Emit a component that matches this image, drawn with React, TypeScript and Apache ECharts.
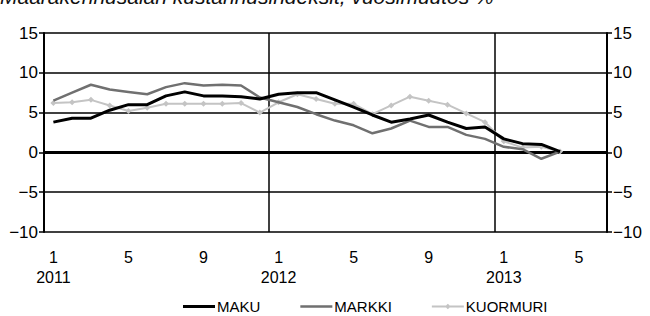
import React, { useEffect, useRef } from "react";
import * as echarts from "echarts";

const titleText = "Maarakennusalan kustannusindeksit, vuosimuutos %";
const years = [2011, 2012, 2013];
const months = [1, 2, 3, 4, 5, 6, 7, 8, 9, 10, 11, 12];
const lastYearMonths = 6;

const makuValues = [3.8, 4.3, 4.3, 5.3, 6.0, 6.0, 7.1, 7.6, 7.1, 7.1, 7.0, 6.7, 7.3, 7.5, 7.5, 6.6, 5.7, 4.7, 3.8, 4.2, 4.7, 3.8, 3.0, 3.2, 1.7, 1.1, 1.0, 0.1];
const markkiValues = [6.5, 7.5, 8.5, 7.9, 7.6, 7.3, 8.2, 8.7, 8.4, 8.5, 8.4, 6.9, 6.3, 5.7, 4.8, 4.0, 3.4, 2.4, 3.0, 4.0, 3.2, 3.2, 2.2, 1.7, 0.7, 0.4, -0.8, 0.1];
const kuormuriValues = [6.2, 6.3, 6.6, 5.9, 5.2, 5.6, 6.1, 6.1, 6.1, 6.1, 6.2, 5.0, 6.3, 7.3, 6.7, 6.1, 6.1, 4.8, 5.9, 7.0, 6.5, 6.0, 4.9, 3.8, 1.4, 0.6, 0.7, 0.1];

const yTicks = [-10, -5, 0, 5, 10, 15];

const corners = "M0,0 L0.01,0 L0,0.01 Z M32,12 L31.99,12 L32,11.99 Z ";
const thickLineIcon = "path://" + corners + "M0,4.4 L32,4.4 L32,7.6 L0,7.6 Z";
const midLineIcon = "path://" + corners + "M0,4.8 L32,4.8 L32,7.2 L0,7.2 Z";
const markerLineIcon = "path://" + corners + "M0,5.1 L32,5.1 L32,6.9 L0,6.9 Z M16,3.2 L18.8,6 L16,8.8 L13.2,6 Z";

export default function App() {
  const ref = useRef<HTMLDivElement>(null);
  useEffect(() => {
    if (!ref.current) return;
    const chart = echarts.init(ref.current, null, { renderer: "svg" });
    const categories: string[] = [];
    years.forEach((y, yi) => {
      const ms = yi === years.length - 1 ? months.slice(0, lastYearMonths) : months;
      ms.forEach((m) => categories.push(m === 1 ? `${m}\n${y}` : `${m}`));
    });
    const font = "'Liberation Sans', Arial, sans-serif";
    const yAxisCommon = {
      type: "value" as const,
      min: yTicks[0],
      max: yTicks[yTicks.length - 1],
      interval: 5,
      axisLine: { show: true, lineStyle: { color: "#000", width: 2 } },
      axisTick: { show: true, inside: false, length: 5, lineStyle: { color: "#000", width: 1.5 } },
      axisLabel: { color: "#000", fontSize: 17, fontFamily: font, margin: 6, formatter: (v: number) => (v < 0 ? "\u2212" + Math.abs(v) : String(v)) },
    };
    chart.setOption({
      animation: false,
      backgroundColor: "#fff",
      textStyle: { fontFamily: font },
      graphic: [
        {
          type: "text",
          left: 0,
          top: -14,
          style: { text: titleText, font: `italic 21px ${font}`, fill: "#111" },
        },
      ],
      legend: {
        left: 178,
        top: 294,
        itemWidth: 32,
        itemHeight: 12,
        itemGap: 40,
        textStyle: { fontSize: 15, color: "#000", fontFamily: font, padding: [0, 0, 0, -3] },
        data: [
          { name: "MAKU", icon: thickLineIcon },
          { name: "MARKKI", icon: midLineIcon },
          { name: "KUORMURI", icon: markerLineIcon },
        ],
      },
      grid: { left: 44, right: 43, top: 33, bottom: 84, containLabel: false },
      xAxis: {
        type: "category",
        data: categories,
        boundaryGap: true,
        axisLine: { show: false },
        axisTick: { show: false },
        axisLabel: {
          interval: (i: number) => i % 4 === 0,
          color: "#000",
          fontSize: 16,
          fontFamily: font,
          margin: 15,
          lineHeight: 20,
        },
        splitLine: {
          show: true,
          interval: (i: number) => i === 12 || i === 24,
          lineStyle: { color: "#000", width: 1.5 },
        },
      },
      yAxis: [
        { ...yAxisCommon, position: "left", splitLine: { show: true, lineStyle: { color: "#000", width: 1.5 } } },
        { ...yAxisCommon, position: "right", splitLine: { show: false } },
      ],
      series: [
        {
          name: "MAKU",
          type: "line",
          data: makuValues,
          symbol: "none",
          lineStyle: { color: "#000", width: 3 },
          itemStyle: { color: "#000" },
          z: 5,
          markLine: {
            silent: true,
            symbol: "none",
            label: { show: false },
            lineStyle: { color: "#000", width: 3, type: "solid" },
            data: [{ yAxis: 0 }],
            z: 1,
          },
        },
        {
          name: "MARKKI",
          type: "line",
          data: markkiValues,
          symbol: "none",
          lineStyle: { color: "#707070", width: 2.5 },
          itemStyle: { color: "#707070" },
          z: 4,
        },
        {
          name: "KUORMURI",
          type: "line",
          data: kuormuriValues,
          symbol: "diamond",
          symbolSize: 6,
          lineStyle: { color: "#c4c4c4", width: 2 },
          itemStyle: { color: "#c4c4c4" },
          z: 3,
        },
      ],
    });
    return () => chart.dispose();
  }, []);
  return <div ref={ref} style={{ position: "absolute", left: 0, top: 0, width: 650, height: 316 }} />;
}
